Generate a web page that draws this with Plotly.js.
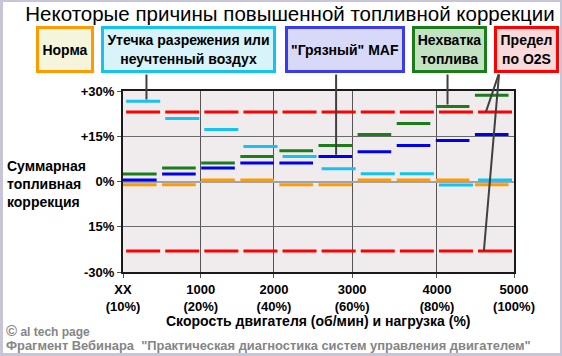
<!DOCTYPE html>
<html>
<head>
<meta charset="utf-8">
<script src="https://cdn.plot.ly/plotly-3.0.1.min.js"></script>
<style>
  html, body { margin: 0; padding: 0; background: #ffffff; }
  #wrap { position: relative; width: 562px; height: 356px; }
  #chart { width: 562px; height: 356px; }
  #frame { position: absolute; left: 0; top: 0; width: 562px; height: 356px; box-sizing: border-box;
           border-style: solid; border-color: #c9c5d9; border-width: 2px 2px 3px 3px; pointer-events: none; }
</style>
</head>
<body>
<div id="wrap"><div id="chart"></div><div id="frame"></div></div>
<script>
// ---- data ----
const xTickLabels = ['XX<br>(10%)', '1000<br>(20%)', '2000<br>(40%)', '3000<br>(60%)', '4000<br>(80%)', '5000<br>(100%)'];
const xTickPos = [0, 1.99, 3.86, 5.86, 8.03, 10];
const yTickVals = [30, 15, 0, -15, -30];
const yTickLabels = ['+30%', '+15%', '0%', '15%', '-30%'];

const normal     = [-1.1, -1.1, 0.5, 0.5, -1.1, -1.1, 0.5, 0.5, 0.5, -1.1];
const vacuumLeak = [26.6, 20.9, 17.2, 11.6, 8.3, 4.2, 2.6, 2.6, -1.2, 0.5];
const dirtyMaf   = [0.5, 2.5, 4.5, 6.1, 6.1, 8.3, 9.9, 11.9, 13.6, 15.6];
const lowFuel    = [2.5, 4.5, 6.1, 8.3, 10.2, 11.9, 15.6, 19.2, 24.9, 28.6];
const o2Upper    = [23, 23, 23, 23, 23, 23, 23, 23, 23, 23];
const o2Lower    = [-23, -23, -23, -23, -23, -23, -23, -23, -23, -23];

const legendNames = ['Норма', 'Утечка разрежения или<br>неучтенный воздух', '"Грязный" MAF', 'Нехватка<br>топлива', 'Предел<br>по O2S'];

// ---- helpers ----
function segs(vals, a, b) {
  const x = [], y = [];
  vals.forEach((v, i) => { x.push(i + a, i + b, null); y.push(v, v, null); });
  return { x, y };
}
function trace(vals, a, b, color, w) {
  const s = segs(vals, a, b);
  return { x: s.x, y: s.y, mode: 'lines', type: 'scatter', line: { color: color, width: w }, hoverinfo: 'skip', connectgaps: false };
}
const FONT = 'Liberation Sans, Arial, sans-serif';
const L = 123, R = 514, T = 91, B = 272;
const px = p => (p - L) / (R - L);
const py = p => (B - p) / (B - T);

const data = [
  trace(o2Upper, 0.08, 0.95, '#ff0000', 3),
  trace(o2Lower, 0.08, 0.95, '#ff0000', 3),
  trace(vacuumLeak, 0.08, 0.95, '#14c3f0', 3),
  trace(normal, 0.0, 0.86, '#ff9a00', 3),
  trace(dirtyMaf, 0.0, 0.86, '#0000ee', 3),
  trace(lowFuel, 0.0, 0.86, '#1a7d1a', 3)
];

function box(text, cx, w, border, fill) {
  return { xref: 'paper', yref: 'paper', x: px(cx), y: py(49.5), xanchor: 'center', yanchor: 'middle',
    text: text, showarrow: false, width: w - 6, height: 41, bordercolor: border, borderwidth: 3, borderpad: 0,
    bgcolor: fill, font: { family: FONT, size: 14, color: '#000', weight: 'bold' }, align: 'center' };
}
function conn(xTail, yTail, xHead, yHead) {
  return { xref: 'x', yref: 'y', axref: 'x', ayref: 'y', x: xHead, y: yHead, ax: xTail, ay: yTail,
    text: '', showarrow: true, arrowhead: 0, arrowwidth: 2, arrowcolor: '#404040', standoff: 0, startstandoff: 0 };
}

const annotations = [
  box(legendNames[0], 65, 58, '#ff9a00', '#f5f5dc'),
  box(legendNames[1], 188.5, 175, '#14c3f0', '#d8f3fa'),
  box(legendNames[2], 345, 120, '#3a3af0', '#d8d8f8'),
  box(legendNames[3], 449.5, 75, '#1a7d1a', '#c2e2c2'),
  box(legendNames[4], 526.5, 65, '#ff0000', '#f9d9d9'),
  conn(0.6, 36, 0.6, vacuumLeak[0] + 0.6),
  conn(5.45, 36, 5.45, dirtyMaf[5] + 0.6),
  conn(8.3, 36, 8.3, lowFuel[8] + 0.6),
  conn(9.62, 36, 9.28, o2Upper[9]),
  conn(9.62, 36, 9.23, o2Lower[9]),
  { xref: 'paper', yref: 'paper', x: px(5), y: py(184), xanchor: 'left', yanchor: 'middle', align: 'left', showarrow: false,
    text: 'Суммарная<br>топливная<br>коррекция', font: { family: FONT, size: 14, color: '#000', weight: 'bold' } },
  { xref: 'paper', yref: 'paper', x: px(318), y: py(321), xanchor: 'center', yanchor: 'middle', showarrow: false,
    text: 'Скорость двигателя (об/мин) и нагрузка (%)', font: { family: FONT, size: 14, color: '#000', weight: 'bold' } },
  { xref: 'paper', yref: 'paper', x: px(4), y: py(330), xanchor: 'left', yanchor: 'middle', showarrow: false,
    text: '<span style="font-size:15px">©</span> al tech page', font: { family: FONT, size: 12, color: '#858585', weight: 'bold' } },
  { xref: 'paper', yref: 'paper', x: px(4), y: py(345), xanchor: 'left', yanchor: 'middle', showarrow: false,
    text: 'Фрагмент Вебинара  "Практическая диагностика систем управления двигателем"', font: { family: FONT, size: 12.9, color: '#858585', weight: 'bold' } }
];

const layout = {
  width: 562, height: 356,
  margin: { l: L, r: 562 - R, t: T, b: 356 - B, pad: 0 },
  paper_bgcolor: '#ffffff', plot_bgcolor: '#f0ecee',
  showlegend: false,
  title: { text: 'Некоторые причины повышенной топливной коррекции', x: 290 / 562, xanchor: 'center', y: 1 - 14 / 356, yanchor: 'middle',
           font: { family: FONT, size: 20.5, color: '#000' } },
  xaxis: { range: [0, 10], tickmode: 'array', tickvals: xTickPos, ticktext: xTickLabels, showgrid: true, gridcolor: '#555555', gridwidth: 1,
           zeroline: false, showline: true, mirror: true, linecolor: '#1a1a1a', linewidth: 2, ticks: 'outside', ticklen: 4, tickcolor: '#555',
           tickfont: { family: FONT, size: 13, color: '#000', weight: 'bold' }, fixedrange: true },
  yaxis: { range: [-30, 30], tickmode: 'array', tickvals: yTickVals, ticktext: yTickLabels, showgrid: true, gridcolor: '#6a6a6a', gridwidth: 1,
           zeroline: true, zerolinecolor: '#a3a3a3', zerolinewidth: 2, showline: true, mirror: true, linecolor: '#1a1a1a', linewidth: 2,
           ticks: 'outside', ticklen: 4, tickcolor: '#555', tickfont: { family: FONT, size: 13, color: '#000', weight: 'bold' }, fixedrange: true },
  annotations: annotations
};

Plotly.newPlot('chart', data, layout, { staticPlot: true, displayModeBar: false });
</script>
</body>
</html>
